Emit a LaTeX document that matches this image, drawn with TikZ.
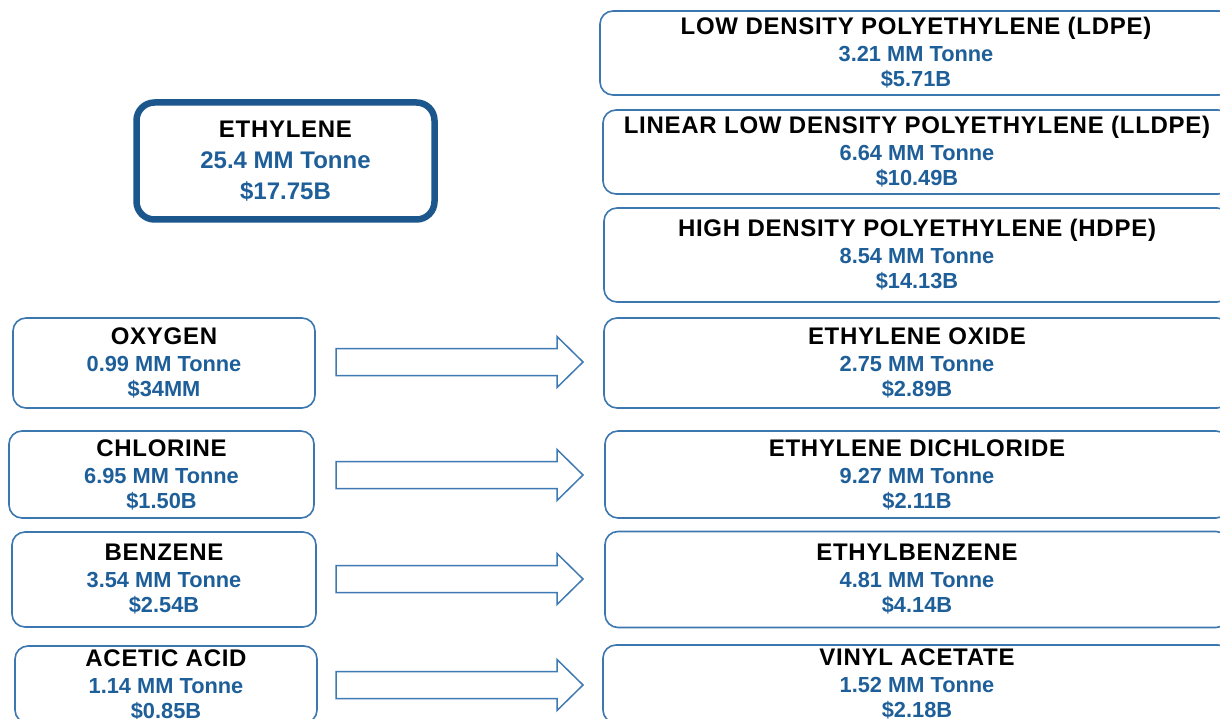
\documentclass[tikz,border=0pt]{standalone}
\usepackage{fontspec}
\setmainfont{Liberation Sans}
\newfontfamily\spacedsans[LetterSpace=3]{Liberation Sans}
\definecolor{valblue}{HTML}{1F5F99}
\definecolor{edgeblue}{HTML}{3C77B0}
\definecolor{darkedge}{HTML}{1B568C}
\definecolor{arrowblue}{HTML}{3F7AB5}
\newcommand{\prodtext}[3]{{\spacedsans\bfseries\fontsize{24}{25}\selectfont\color{black}#1}\\[2pt]#2\\#3}
\tikzset{
  prodbox/.style={draw=edgeblue, line width=1.6pt, rounded corners=13pt,
    rectangle, inner sep=0pt, align=center, text=valblue,
    font=\bfseries\fontsize{21.8}{25}\selectfont},
  mainbox/.style={draw=darkedge, line width=6.5pt, rounded corners=18pt,
    rectangle, inner sep=0pt, align=center, text=valblue,
    font=\bfseries\fontsize{24}{31}\selectfont},
  blockarrow/.style={draw=arrowblue, line width=1.5pt, fill=white, line join=miter}
}
\newcommand{\flowarrow}[1]{%
  \draw[blockarrow] (336,#1-13.5) -- (557,#1-13.5) -- (557,#1-25.5) -- (583,#1)
    -- (557,#1+25.5) -- (557,#1+13.5) -- (336,#1+13.5) -- cycle;}
\begin{document}
\begin{tikzpicture}[x=1pt,y=-1pt]
\useasboundingbox (0,0) rectangle (1220,719);
\clip (0,0) rectangle (1220,719);
\fill[white] (0,0) rectangle (1220,719);

% feedstock
\node[mainbox, minimum width=298pt, minimum height=117pt] (eth) at (285.5,161)
  {{\spacedsans\bfseries\fontsize{24}{31}\selectfont\color{black}ETHYLENE}\\25.4 MM Tonne\\\$17.75B};

% polyethylene grades
\node[prodbox, minimum width=632pt, minimum height=84pt] (ldpe) at (916,53)
  {\prodtext{LOW DENSITY POLYETHYLENE (LDPE)}{3.21 MM Tonne}{\$5.71B}};
\node[prodbox, minimum width=628pt, minimum height=84pt] (lldpe) at (917,152)
  {\prodtext{LINEAR LOW DENSITY POLYETHYLENE (LLDPE)}{6.64 MM Tonne}{\$10.49B}};
\node[prodbox, minimum width=626pt, minimum height=94pt] (hdpe) at (917,255)
  {\prodtext{HIGH DENSITY POLYETHYLENE (HDPE)}{8.54 MM Tonne}{\$14.13B}};

% co-reactants
\node[prodbox, minimum width=302pt, minimum height=90pt] (oxy) at (164,363)
  {\prodtext{OXYGEN}{0.99 MM Tonne}{\$34MM}};
\node[prodbox, minimum width=305pt, minimum height=87pt] (chl) at (161.5,474.5)
  {\prodtext{CHLORINE}{6.95 MM Tonne}{\$1.50B}};
\node[prodbox, minimum width=304pt, minimum height=95pt] (ben) at (164,579.5)
  {\prodtext{BENZENE}{3.54 MM Tonne}{\$2.54B}};
\node[prodbox, minimum width=302pt, minimum height=77pt] (ace) at (166,684.5)
  {\prodtext{ACETIC ACID}{1.14 MM Tonne}{\$0.85B}};

% derivatives
\node[prodbox, minimum width=626pt, minimum height=90pt] (eo) at (917,363)
  {\prodtext{ETHYLENE OXIDE}{2.75 MM Tonne}{\$2.89B}};
\node[prodbox, minimum width=624pt, minimum height=87pt] (edc) at (917,474.5)
  {\prodtext{ETHYLENE DICHLORIDE}{9.27 MM Tonne}{\$2.11B}};
\node[prodbox, minimum width=624pt, minimum height=96pt] (eb) at (917,579.5)
  {\prodtext{ETHYLBENZENE}{4.81 MM Tonne}{\$4.14B}};
\node[prodbox, minimum width=628pt, minimum height=78pt] (va) at (917,684)
  {\prodtext{VINYL ACETATE}{1.52 MM Tonne}{\$2.18B}};

% reaction arrows
\flowarrow{362}
\flowarrow{475}
\flowarrow{579}
\flowarrow{685}
\end{tikzpicture}
\end{document}
